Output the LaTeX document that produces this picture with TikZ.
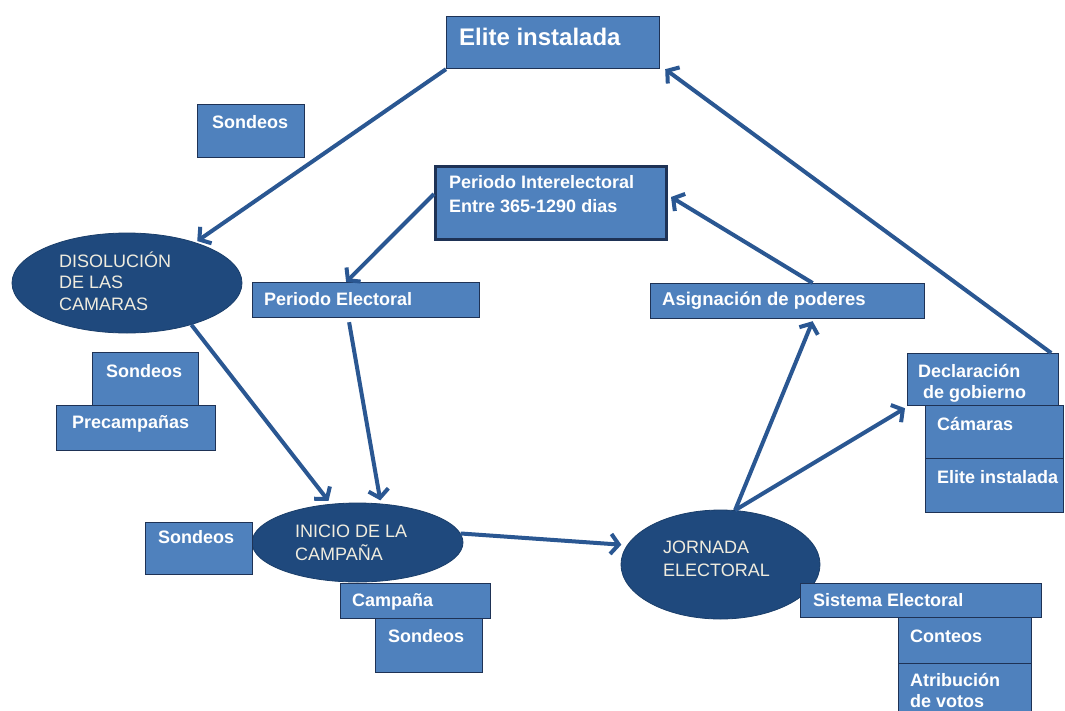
\documentclass[tikz,border=0pt]{standalone}
\usepackage{fontspec}
\setmainfont{Liberation Sans}
\usetikzlibrary{arrows.meta,shapes.geometric}
\definecolor{boxfill}{RGB}{79,129,189}
\definecolor{boxline}{RGB}{30,50,85}
\definecolor{ellfill}{RGB}{31,73,125}
\definecolor{arrowc}{RGB}{42,87,146}
\definecolor{elltext}{RGB}{240,236,222}
\begin{document}
\begin{tikzpicture}[x=1pt,y=-1pt,
  box/.style={draw=boxline, fill=boxfill, line width=1.2pt, anchor=north west, inner sep=0pt},
  thickbox/.style={box, draw=boxline, line width=3pt},
  ell/.style={ellipse, fill=ellfill, draw=ellfill!85!black, line width=0.8pt, inner sep=0pt},
  lbl/.style={anchor=base west, text=white, inner sep=0pt, font=\fontsize{18}{22}\selectfont\bfseries, align=left},
  ellt/.style={anchor=base west, text=elltext, inner sep=0pt, font=\fontsize{18}{22}\selectfont, align=left},
  conn/.style={draw=arrowc, line width=4pt, -{Straight Barb[length=8pt,width=20pt]}}
]
\useasboundingbox (0,0) rectangle (1065,710);
\clip (0,0) rectangle (1065,710);
\fill[white] (0,0) rectangle (1065,710);

% ellipses
\node[ell, minimum width=230, minimum height=100] (dis) at (127,283) {};
\node[ell, minimum width=211, minimum height=79] (ini) at (357.5,542.5) {};
\node[ell, minimum width=199, minimum height=109] (jor) at (720.5,564.5) {};

% boxes
\node[box, minimum width=213, minimum height=52] (elite) at (446,16) {};
\node[box, minimum width=107, minimum height=53] (sond1) at (197,104) {};
\node[thickbox, minimum width=231, minimum height=73] (pie) at (434,165) {};
\node[box, minimum width=227, minimum height=35] (pel) at (252,282) {};
\node[box, minimum width=274, minimum height=35] (asig) at (650,283) {};
\node[box, minimum width=106, minimum height=56] (sond2) at (92,352) {};
\node[box, minimum width=159, minimum height=45] (prec) at (56,405) {};
\node[box, minimum width=151, minimum height=52] (decl) at (907,353) {};
\node[box, minimum width=138, minimum height=53] (cam) at (925,405) {};
\node[box, minimum width=138, minimum height=54] (elite2) at (925,458) {};
\node[box, minimum width=107, minimum height=52] (sond3) at (145,522) {};
\node[box, minimum width=150, minimum height=35] (camp) at (340,583) {};
\node[box, minimum width=107, minimum height=54] (sond4) at (375,618) {};
\node[box, minimum width=241, minimum height=34] (sist) at (800,583) {};
\node[box, minimum width=133, minimum height=46] (cont) at (898,617) {};
\node[box, minimum width=133, minimum height=60] (atri) at (898,663) {};

% texts (multi-line nodes are placed at the baseline of their last line)
\node[lbl, font=\fontsize{24}{28}\selectfont\bfseries] (t-elite) at (459,45) {Elite instalada};
\node[lbl] (t-sond1) at (212,128) {Sondeos};
\node[lbl, font=\fontsize{18}{24}\selectfont\bfseries] (t-pie) at (449,212) {Periodo Interelectoral\\Entre 365-1290 dias};
\node[ellt, font=\fontsize{18}{21.5}\selectfont] (t-dis) at (59,310) {DISOLUCIÓN\\DE LAS\\CAMARAS};
\node[lbl] (t-pel) at (264,305) {Periodo Electoral};
\node[lbl, font=\fontsize{18.5}{22}\selectfont\bfseries] (t-asig) at (662,305) {Asignación de poderes};
\node[lbl] (t-sond2) at (106,377) {Sondeos};
\node[lbl] (t-prec) at (72,428) {Precampañas};
\node[lbl, font=\fontsize{18}{21}\selectfont\bfseries] (t-decl) at (918,398) {Declaración\\\hspace*{5pt}de gobierno};
\node[lbl] (t-cam) at (937,430) {Cámaras};
\node[lbl] (t-elite2) at (937,483) {Elite instalada};
\node[lbl] (t-sond3) at (158,543) {Sondeos};
\node[ellt, font=\fontsize{18}{23}\selectfont] (t-ini) at (295,560) {INICIO DE LA\\CAMPAÑA};
\node[lbl] (t-camp) at (352,606) {Campaña};
\node[lbl] (t-sond4) at (388,642) {Sondeos};
\node[ellt, font=\fontsize{18}{23}\selectfont] (t-jor) at (663,576) {JORNADA\\ELECTORAL};
\node[lbl] (t-sist) at (813,606) {Sistema Electoral};
\node[lbl] (t-cont) at (910,642) {Conteos};
\node[lbl, font=\fontsize{18}{21}\selectfont\bfseries] (t-atri) at (910,707) {Atribución\\de votos};

% connectors
\draw[conn] (elite.south west) -- ([shift={(-3,-3)}]dis.28);
\draw[conn] ([shift={(-8,0)}]decl.north east) -- ([shift={(5,0)}]elite.south east);
\draw[conn] ([shift={(0,-9)}]pie.west) -- ([shift={(-20,0)}]pel.north);
\draw[conn] ([shift={(25,0)}]asig.north) -- ([shift={(3,-6)}]pie.east);
\draw[conn] (dis.-33) -- ([shift={(-2,-3)}]ini.125);
\draw[conn] ([shift={(-17,4)}]pel.south) -- ([shift={(2,-3)}]ini.62);
\draw[conn] (ini.5) -- ([shift={(-6,0)}]jor.168);
\draw[conn] (jor.75) -- ([shift={(25,2)}]asig.south);
\draw[conn] (jor.75) -- ([shift={(-2,2)}]decl.south west);
\end{tikzpicture}
\end{document}
